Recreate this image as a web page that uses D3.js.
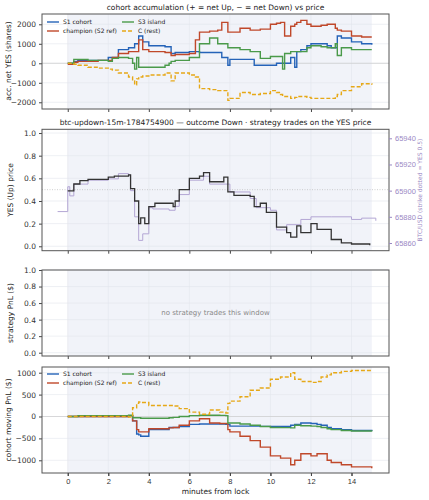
<!DOCTYPE html>
<html><head><meta charset="utf-8">
<script src="https://cdn.jsdelivr.net/npm/d3@7"></script>
<style>body{margin:0;background:#fff;font-family:"DejaVu Sans",sans-serif}</style>
</head><body>
<script>
// panel 1: accumulated net YES shares
var accT = [0,0.3,0.5,1,1.5,2,2.2,2.5,3,3.2,3.3,3.4,3.5,3.7,4,4.8,5,5.1,5.3,6,6.3,6.5,7,7.4,7.6,7.9,8,8.5,9,9.2,9.5,10,10.3,10.5,10.6,10.7,11,11.2,11.3,11.5,11.8,12,12.5,12.8,13,13.2,13.3,13.5,14,14.5,15];
var accS1 = [0,100,150,150,150,300,300,700,800,800,1000,1000,1400,1100,900,850,850,500,550,600,600,550,550,550,300,-100,200,200,200,-100,-100,-100,0,0,0,0,300,-200,600,700,900,1000,1000,900,800,800,1400,1300,1100,1000,950];
var accChamp = [-50,50,100,100,150,150,300,500,600,600,600,600,1200,700,600,550,550,400,450,500,1200,1600,1650,1700,2100,1600,1600,1800,1700,1700,1750,2000,2050,2100,2100,1400,1900,2000,2100,2200,2000,1900,1950,2000,2000,1800,1700,1650,1400,1350,1350];
var accS3 = [0,200,200,150,150,100,250,300,250,0,-300,300,-200,-200,-200,-100,0,100,150,300,300,1000,1300,1000,1000,800,800,700,600,600,250,350,350,350,-300,500,600,600,600,600,800,900,850,800,800,1000,400,800,700,700,700];
var accC = [0,-50,-100,-200,-250,-300,-350,-500,-700,-900,-1100,-800,-700,-650,-600,-500,-500,-900,-500,-600,-700,-1300,-1350,-1400,-1400,-1900,-1800,-1500,-1600,-1600,-1550,-1400,-1500,-1600,-1700,-1700,-1800,-1750,-1700,-1700,-1750,-1800,-1800,-1800,-1800,-1700,-1600,-1400,-1200,-1050,-1100];

// panel 2: YES price and BTC
var yesT = [0,0.3,0.6,1,2,2.3,3,3.1,3.3,3.5,3.6,3.8,4,4.3,5,5.2,5.3,5.5,6,6.5,6.7,7,7.7,7.9,8.2,9,9.2,9.5,9.8,10,10.3,10.8,11,11.3,11.5,12,12.3,13,13.5,14,14.9];
var yesP = [0.49,0.55,0.58,0.59,0.61,0.62,0.63,0.51,0.4,0.2,0.25,0.2,0.35,0.38,0.38,0.35,0.4,0.5,0.6,0.62,0.65,0.57,0.61,0.48,0.45,0.44,0.35,0.38,0.3,0.3,0.17,0.12,0.08,0.18,0.12,0.2,0.15,0.06,0.03,0.02,0.01];
var btcT = [-0.5,0,0.1,0.3,1,2,2.5,3,3.1,3.3,3.5,3.7,4,4.2,5,5.3,5.5,6,6.7,7,7.8,8,9,9.3,10,10.3,10.8,11.5,12,13,14,14.5,15.2];
var btcP = [65884,65903,65896,65905,65908,65909,65913,65912,65900,65880,65862,65867,65887,65886,65885,65888,65897,65908,65911,65905,65905,65899,65894,65887,65885,65870,65874,65878,65880,65880,65878,65879,65877];

// panel 4: cohort moving PnL
var pnlT = [0,0.5,3,3.2,3.4,3.5,3.6,4,5,5.2,5.5,6,6.5,7,7.5,7.8,7.9,8,8.5,9,9.5,10,10.5,11,11.2,11.5,12,12.3,12.5,12.8,13,13.5,14,15];
var pnlS1 = [0,0,20,-100,-400,-420,-450,-300,-250,-250,-230,-180,-170,-170,-175,-180,-180,-220,-220,-220,-225,-230,-230,-200,-180,-150,-160,-180,-200,-250,-280,-300,-320,-330];
var pnlChamp = [0,0,20,-100,-300,-350,-350,-280,-260,-250,-200,-100,-50,-150,-160,-160,-300,-350,-450,-550,-700,-900,-950,-1100,-1000,-850,-900,-850,-850,-1000,-1050,-1100,-1150,-1180];
var pnlS3 = [0,20,30,-30,-30,-30,-40,-40,-30,-20,0,20,30,30,25,20,-150,-150,-170,-200,-230,-250,-255,-260,-200,-210,-220,-230,-250,-280,-300,-320,-330,-340];
var pnlC = [0,0,-10,200,300,330,320,250,250,240,180,100,50,150,100,80,300,350,450,600,650,850,900,1000,850,800,780,800,900,950,1000,1030,1050,1080];

var seriesNames = ["S1 cohort","champion (S2 ref)","S3 island","C (rest)"];
var seriesColors = ["#2563b8","#c0482a","#4a9a4a","#e6a817"];

var W = 429, H = 500, L = 42, R = 389;
var svg = d3.select("body").append("svg").attr("width", W).attr("height", H);
var x = d3.scaleLinear().domain([-1.27, 15.85]).range([L, R]);
var xTicks = [0,2,4,6,8,10,12,14];

function panel(top, bottom, ydom, yticks, fmt) {
  var y = d3.scaleLinear().domain(ydom).range([bottom, top]);
  var g = svg.append("g");
  g.append("rect").attr("x", L).attr("y", top).attr("width", R - L).attr("height", bottom - top).attr("fill", "#fff");
  g.append("rect").attr("x", x(0)).attr("y", top).attr("width", x(15) - x(0)).attr("height", bottom - top).attr("fill", "#f1f3f9");
  xTicks.forEach(function(t){
    g.append("line").attr("x1", x(t)).attr("x2", x(t)).attr("y1", top).attr("y2", bottom).attr("stroke", "#e3e5ec").attr("stroke-width", 0.6);
  });
  yticks.forEach(function(t){
    g.append("line").attr("x1", L).attr("x2", R).attr("y1", y(t)).attr("y2", y(t)).attr("stroke", "#e3e5ec").attr("stroke-width", 0.6);
  });
  var ya = svg.append("g").attr("transform", "translate(" + L + ",0)").call(d3.axisLeft(y).tickValues(yticks).tickFormat(fmt).tickSize(3));
  var xa = svg.append("g").attr("transform", "translate(0," + bottom + ")").call(d3.axisBottom(x).tickValues(xTicks).tickSize(3).tickFormat(""));
  [ya, xa].forEach(function(a){
    a.select(".domain").remove();
    a.selectAll("text").attr("font-size", 7.5).attr("fill", "#333").attr("font-family", "DejaVu Sans");
    a.selectAll("line").attr("stroke", "#444");
  });
  return {y: y, g: g, top: top, bottom: bottom, xa: xa};
}
function frame(p) {
  svg.append("rect").attr("x", L).attr("y", p.top).attr("width", R - L).attr("height", p.bottom - p.top).attr("fill", "none").attr("stroke", "#555").attr("stroke-width", 1);
}
function step(p, ts, vs, color, dashed, yscale, w) {
  var line = d3.line().x(function(d){ return x(d[0]); }).y(function(d){ return (yscale || p.y)(d[1]); }).curve(d3.curveStepAfter);
  p.g.append("path").datum(d3.zip(ts, vs)).attr("d", line).attr("fill", "none").attr("stroke", color)
    .attr("stroke-width", w || 1.4).attr("stroke-dasharray", dashed ? "4,2" : null);
}
function minus(d){ return d3.format(",")(d).replace("-", "\u2212").replace(",", ""); }
function label(txt, xx, yy, size, color, rot, anchor) {
  var t = svg.append("text").attr("x", xx).attr("y", yy).attr("font-size", size).attr("fill", color || "#222")
    .attr("text-anchor", anchor || "middle").text(txt);
  if (rot) t.attr("transform", "rotate(" + rot + "," + xx + "," + yy + ")");
  return t;
}
function legend(px, py) {
  seriesNames.forEach(function(n, i){
    var cx = px + (i % 2 === 0 ? 0 : 75), cy = py + Math.floor(i / 2) * 9;
    if (i === 1) cx = px; if (i === 2) { cx = px + 75; cy = py; } if (i === 3) { cx = px + 75; cy = py + 9; }
    if (i === 0) { cx = px; cy = py; } if (i === 1) { cy = py + 9; }
    svg.append("line").attr("x1", cx).attr("x2", cx + 12).attr("y1", cy).attr("y2", cy).attr("stroke", seriesColors[i])
      .attr("stroke-width", 1.4).attr("stroke-dasharray", i === 3 ? "4,2" : null);
    label(n, cx + 16, cy + 2.2, 6, "#222", 0, "start");
  });
}

// panel 1
label("cohort accumulation (+ = net Up, \u2212 = net Down) vs price", (L + R) / 2, 10, 7.5);
var p1 = panel(14, 109, [-2344, 2528], [-2000,-1000,0,1000,2000], minus);
p1.g.append("line").attr("x1", L).attr("x2", R).attr("y1", p1.y(0)).attr("y2", p1.y(0)).attr("stroke", "#ccc").attr("stroke-width", 0.7);
step(p1, accT, accS1, seriesColors[0]);
step(p1, accT, accChamp, seriesColors[1]);
step(p1, accT, accS3, seriesColors[2]);
step(p1, accT, accC, seriesColors[3], true);
frame(p1);
legend(47, 22);
label("acc. net YES (shares)", 11, 61, 7.5, "#222", -90);

// panel 2
label("btc-updown-15m-1784754900 \u2014 outcome Down \u00b7 strategy trades on the YES price", (L + R) / 2, 125, 7.5);
var p2 = panel(129.3, 250.7, [-0.039, 1.033], [0,0.2,0.4,0.6,0.8,1.0], d3.format(".1f"));
var yb = d3.scaleLinear().domain([65860, 65940]).range([243, 138.3]);
p2.g.append("line").attr("x1", L).attr("x2", R).attr("y1", p2.y(0.5)).attr("y2", p2.y(0.5)).attr("stroke", "#bbb").attr("stroke-width", 0.7).attr("stroke-dasharray", "1,1.5");
step(p2, btcT, btcP, "#b3a6d4", false, yb, 1);
step(p2, yesT, yesP, "#333", false, null, 1.3);
frame(p2);
var ra = svg.append("g").attr("transform", "translate(" + R + ",0)").call(d3.axisRight(yb).tickValues([65860,65880,65900,65920,65940]).tickFormat(d3.format("d")).tickSize(3));
ra.select(".domain").remove();
ra.selectAll("text").attr("font-size", 7.5).attr("fill", "#9a88c4");
ra.selectAll("line").attr("stroke", "#9a88c4");
label("YES (Up) price", 13, 190, 7.5, "#222", -90);
label("BTC/USD (strike dotted = YES 0.5)", 422, 190, 6, "#9a88c4", -90);

// panel 3
var p3 = panel(270, 356, [-0.04, 1.0], [0,0.2,0.4,0.6,0.8,1.0], d3.format(".1f"));
frame(p3);
label("no strategy trades this window", (L + R) / 2, 315, 7, "#888");
label("strategy PnL ($)", 13, 313, 7.5, "#222", -90);

// panel 4
var p4 = panel(367, 473, [-1290, 1130], [-1000,-500,0,500,1000], minus);
p4.g.append("line").attr("x1", L).attr("x2", R).attr("y1", p4.y(0)).attr("y2", p4.y(0)).attr("stroke", "#ccc").attr("stroke-width", 0.7);
step(p4, pnlT, pnlS1, seriesColors[0]);
step(p4, pnlT, pnlChamp, seriesColors[1]);
step(p4, pnlT, pnlS3, seriesColors[2]);
step(p4, pnlT, pnlC, seriesColors[3], true);
frame(p4);
legend(47, 374);
p4.xa.selectAll("text").remove();
var xb = svg.append("g").attr("transform", "translate(0,473)").call(d3.axisBottom(x).tickValues(xTicks).tickSize(3));
xb.select(".domain").remove();
xb.selectAll("text").attr("font-size", 7.5).attr("fill", "#333");
xb.selectAll("line").attr("stroke", "#444");
label("minutes from lock", (L + R) / 2, 494, 7.5);
label("cohort moving PnL ($)", 11, 420, 7.5, "#222", -90);
</script>
</body></html>
